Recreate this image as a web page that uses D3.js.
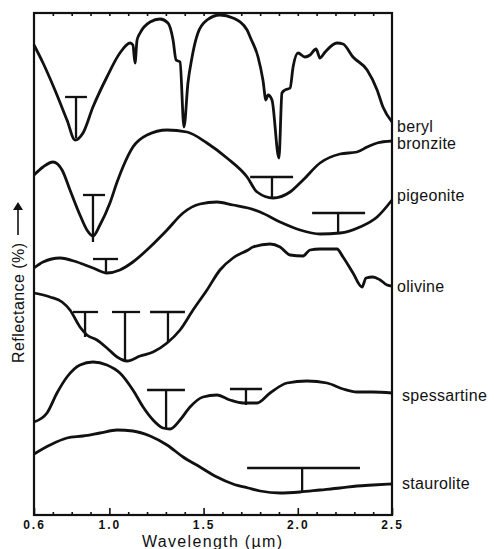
<!DOCTYPE html>
<html>
<head>
<meta charset="utf-8">
<script src="https://cdn.jsdelivr.net/npm/d3@7"></script>
<style>
  body { margin: 0; background: #fff; }
  text { font-family: "Liberation Sans", Arial, sans-serif; fill: #111; }
</style>
</head>
<body>
<div id="chart"></div>
<script>
// mineral names, top to bottom
var minerals = ["beryl", "bronzite", "pigeonite", "olivine", "spessartine", "staurolite"];

// wavelength (um) and relative reflectance (offset units) for each spectrum
var berylWl = [0.6, 0.648, 0.711, 0.775, 0.818, 0.860, 0.913, 0.987, 1.056, 1.110, 1.125, 1.136, 1.147, 1.163, 1.216, 1.269, 1.311, 1.338, 1.354, 1.375, 1.396, 1.417, 1.439, 1.444, 1.470, 1.518, 1.587, 1.656, 1.731, 1.747, 1.789, 1.815, 1.831, 1.842, 1.863, 1.900, 1.916, 1.932, 1.959, 1.975, 2.001, 2.038, 2.065, 2.097, 2.118, 2.145, 2.208, 2.240, 2.293, 2.368, 2.421, 2.452, 2.5];
var berylR = [47.0, 45.2, 42.5, 39.5, 37.5, 38.2, 40.8, 43.8, 46.2, 47.2, 47.0, 45.2, 47.5, 48.2, 49.3, 49.6, 49.2, 47.5, 45.5, 45.3, 38.8, 43.2, 45.8, 46.3, 48.2, 49.5, 50.0, 49.7, 48.5, 47.8, 45.8, 43.5, 41.5, 42.0, 41.5, 35.7, 42.2, 42.5, 42.7, 44.8, 46.2, 45.8, 46.0, 46.6, 45.7, 46.3, 47.2, 47.1, 45.8, 44.5, 42.5, 40.8, 39.3];

var bronziteWl = [0.6, 0.648, 0.701, 0.749, 0.791, 0.844, 0.881, 0.913, 0.950, 1.003, 1.041, 1.072, 1.125, 1.200, 1.306, 1.412, 1.518, 1.624, 1.731, 1.784, 1.869, 1.959, 2.028, 2.118, 2.224, 2.314, 2.368, 2.421, 2.5];
var bronziteR = [34.0, 34.8, 35.3, 34.5, 32.5, 30.0, 28.5, 27.9, 29.0, 31.2, 33.3, 34.8, 36.8, 38.0, 38.5, 38.3, 37.2, 35.7, 33.8, 32.3, 31.7, 32.3, 33.5, 35.2, 36.1, 36.3, 36.8, 37.2, 37.4];

var pigeoniteWl = [0.6, 0.648, 0.738, 0.828, 0.913, 0.987, 1.056, 1.125, 1.216, 1.306, 1.391, 1.481, 1.571, 1.656, 1.736, 1.800, 1.906, 2.012, 2.118, 2.224, 2.330, 2.421, 2.5];
var pigeoniteR = [24.7, 25.3, 25.7, 25.3, 24.7, 24.2, 24.5, 25.3, 26.8, 28.5, 30.2, 31.1, 31.3, 31.0, 30.7, 30.3, 29.3, 28.5, 28.1, 28.2, 28.8, 29.8, 31.5];

var olivineWl = [0.6, 0.685, 0.749, 0.791, 0.844, 0.881, 0.934, 0.987, 1.041, 1.094, 1.163, 1.232, 1.306, 1.375, 1.444, 1.518, 1.587, 1.656, 1.736, 1.762, 1.853, 1.906, 1.959, 2.028, 2.065, 2.118, 2.208, 2.240, 2.293, 2.341, 2.362, 2.399, 2.437, 2.474, 2.5];
var olivineR = [22.2, 21.8, 21.3, 20.5, 18.8, 18.0, 17.5, 16.7, 15.8, 15.4, 15.9, 16.3, 17.2, 18.5, 20.5, 22.5, 24.5, 25.7, 26.5, 26.8, 27.1, 26.8, 26.0, 25.9, 26.5, 26.6, 26.6, 25.8, 24.2, 22.8, 23.7, 23.8, 23.5, 23.0, 22.9];

var spessartineWl = [0.6, 0.669, 0.722, 0.775, 0.844, 0.913, 0.987, 1.056, 1.125, 1.179, 1.232, 1.285, 1.322, 1.375, 1.428, 1.497, 1.571, 1.640, 1.709, 1.784, 1.853, 1.943, 2.049, 2.155, 2.240, 2.314, 2.399, 2.5];
var spessartineR = [9.3, 10.2, 12.2, 13.8, 15.0, 15.3, 15.0, 14.2, 12.5, 10.8, 9.5, 8.7, 8.6, 9.5, 10.8, 11.8, 12.0, 11.5, 11.2, 11.2, 12.2, 13.2, 13.4, 13.2, 12.6, 12.3, 12.3, 12.2];

var stauroliteWl = [0.6, 0.685, 0.775, 0.860, 0.950, 1.041, 1.125, 1.216, 1.306, 1.391, 1.481, 1.571, 1.656, 1.736, 1.800, 1.906, 2.012, 2.118, 2.224, 2.314, 2.399, 2.5];
var stauroliteR = [6.1, 7.0, 7.7, 7.9, 8.2, 8.5, 8.4, 7.9, 7.0, 5.8, 4.8, 3.8, 3.1, 2.7, 2.4, 2.2, 2.3, 2.5, 2.7, 2.9, 3.0, 3.1];

// absorption band markers: centre, bar width limits, bar level, band bottom
var bandCentre = [0.823, 0.913, 1.863, 0.982, 2.214, 0.871, 1.083, 1.311, 1.301, 1.725, 2.023];
var bandFrom   = [0.765, 0.860, 1.747, 0.913, 2.076, 0.807, 1.014, 1.216, 1.200, 1.640, 1.731];
var bandTo     = [0.881, 0.977, 1.975, 1.046, 2.357, 0.940, 1.163, 1.401, 1.401, 1.810, 2.330];
var bandTop    = [41.8, 32.0, 33.8, 25.6, 30.2, 20.3, 20.3, 20.3, 12.5, 12.6, 4.7];
var bandBottom = [37.7, 27.3, 31.8, 24.3, 28.2, 17.8, 15.3, 17.2, 8.6, 11.0, 2.3];

// axis ticks
var majorTicks = [0.6, 1.0, 1.5, 2.0, 2.5];
var minorTicks = [0.7, 0.8, 0.9, 1.1, 1.2, 1.3, 1.4, 1.6, 1.7, 1.8, 1.9, 2.1, 2.2, 2.3, 2.4];

var spectra = [
  [berylWl, berylR], [bronziteWl, bronziteR], [pigeoniteWl, pigeoniteR],
  [olivineWl, olivineR], [spessartineWl, spessartineR], [stauroliteWl, stauroliteR]
].map(function (s, i) {
  return { name: minerals[i], pts: s[0].map(function (w, j) { return [w, s[1][j]]; }) };
});

var svg = d3.select("#chart")
  .append("svg")
  .attr("width", 494)
  .attr("height", 549);

var x = d3.scaleLinear().domain([0.6, 2.5]).range([34, 392]);
var y = d3.scaleLinear().domain([0, 50.2]).range([515, 13]);

// bottom axis, ticks pointing inward
var minorAxis = svg.append("g")
  .attr("transform", "translate(0," + y(0) + ")")
  .call(d3.axisBottom(x).tickValues(minorTicks).tickSize(-3).tickFormat(""));
var majorAxis = svg.append("g")
  .attr("transform", "translate(0," + y(0) + ")")
  .call(d3.axisBottom(x).tickValues(majorTicks).tickSizeInner(-7).tickSizeOuter(0)
    .tickPadding(5).tickFormat(d3.format(".1f")));
majorAxis.selectAll("text")
  .style("font-size", "12px")
  .style("font-weight", "bold")
  .style("letter-spacing", "2px")
  .attr("fill", "#111");

// top axis
var topAxis = svg.append("g")
  .attr("transform", "translate(0," + y(50.2) + ")")
  .call(d3.axisTop(x).tickValues(minorTicks.concat([1.0, 1.5, 2.0])).tickSize(-3).tickFormat(""));

svg.selectAll(".domain").remove();
svg.selectAll(".tick line").attr("stroke", "#111").attr("stroke-width", 1.6);

// frame
svg.append("rect")
  .attr("x", x(0.6))
  .attr("y", y(50.2))
  .attr("width", x(2.5) - x(0.6))
  .attr("height", y(0) - y(50.2))
  .attr("fill", "none")
  .attr("stroke", "#111")
  .attr("stroke-width", 2.2);

var line = d3.line()
  .x(function (d) { return x(d[0]); })
  .y(function (d) { return y(d[1]); })
  .curve(d3.curveMonotoneX);

svg.append("g")
  .selectAll("path")
  .data(spectra)
  .enter()
  .append("path")
    .attr("d", function (d) { return line(d.pts); })
    .attr("fill", "none")
    .attr("stroke", "#111")
    .attr("stroke-width", 2.8)
    .attr("stroke-linejoin", "round");

// band T markers
var bands = svg.append("g")
  .attr("stroke", "#111")
  .attr("stroke-width", 2.3);
bandCentre.forEach(function (c, i) {
  bands.append("line")
    .attr("x1", x(bandFrom[i])).attr("x2", x(bandTo[i]))
    .attr("y1", y(bandTop[i])).attr("y2", y(bandTop[i]));
  bands.append("line")
    .attr("x1", x(c)).attr("x2", x(c))
    .attr("y1", y(bandTop[i])).attr("y2", y(bandBottom[i]));
});

// mineral labels beside the right end of each curve
var nudgeX = [5, 5, 5, 5, 10, 10];
var nudgeY = [4, 2, -5, 0, 2, -1];
svg.selectAll(".lab")
  .data(spectra)
  .enter()
  .append("text")
    .attr("x", function (d, i) { return x(2.5) + nudgeX[i]; })
    .attr("y", function (d, i) { return y(d.pts[d.pts.length - 1][1]) + nudgeY[i]; })
    .attr("dy", "0.35em")
    .style("font-size", "16px")
    .style("letter-spacing", "0.3px")
    .text(function (d) { return d.name; });

// axis titles
svg.append("text")
  .attr("x", 212)
  .attr("y", 547)
  .attr("text-anchor", "middle")
  .attr("textLength", 140)
  .style("font-size", "16px")
  .text("Wavelength (\u00b5m)");

svg.append("text")
  .attr("transform", "translate(24,303) rotate(-90)")
  .attr("text-anchor", "middle")
  .attr("textLength", 120)
  .style("font-size", "16px")
  .text("Reflectance (%)");

// arrow after the y title
svg.append("line")
  .attr("x1", 18).attr("x2", 18)
  .attr("y1", 235).attr("y2", 206)
  .attr("stroke", "#111")
  .attr("stroke-width", 1.6);
svg.append("path")
  .attr("d", "M13,210 L18,202 L23,210 Z")
  .attr("fill", "#111");
</script>
</body>
</html>
